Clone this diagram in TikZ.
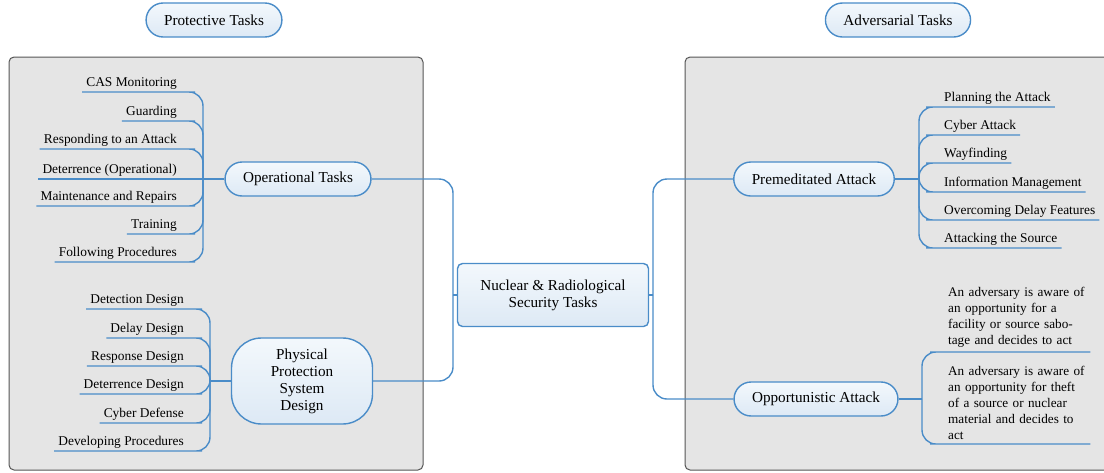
\documentclass[tikz,border=0pt]{standalone}
\usepackage{fontspec}
\setmainfont{Liberation Serif}
\definecolor{mapblue}{HTML}{4A8CC8}
\definecolor{nodetop}{HTML}{F3F8FC}
\definecolor{nodebot}{HTML}{DDE9F5}
\definecolor{panelgray}{HTML}{E5E5E5}
\definecolor{paneledge}{HTML}{555555}

\begin{document}
\begin{tikzpicture}[
        x=1pt, y=-1pt, % one unit per pixel, y grows downwards
        panel/.style = {draw=paneledge, fill=panelgray, line width=1pt, rounded corners=5pt},
        topic/.style = {draw=mapblue, line width=1.4pt, top color=nodetop, bottom color=nodebot,
                font=\fontsize{15.2}{17}\selectfont, align=center}, % main nodes
        pill/.style = {topic, rounded corners=17pt, minimum height=34pt, inner xsep=18pt},
        leaf/.style = {font=\fontsize{13.4}{16}\selectfont, text depth=0pt, inner xsep=4pt, inner ysep=5pt},
        para/.style = {font=\fontsize{13.2}{16}\selectfont, text width=138pt, align=left,
                inner xsep=4pt, inner ysep=4pt},
        branch/.style = {draw=mapblue, line width=1.4pt, rounded corners=14pt},
    ]
    \useasboundingbox (0,0) rectangle (1104,472);
    \clip (0,0) rectangle (1104,472);

    % grey panels
    \draw[panel] (9,57) rectangle (423,470);
    \draw[panel] (685,57) rectangle (1115,470);

    \node[pill] (prot) at (214,20) {Protective Tasks};
    \node[pill] (adv) at (898,20) {Adversarial Tasks};

    \node[topic, rounded corners=5pt, minimum width=191pt, minimum height=63pt] (root) at (553,295)
        {Nuclear \& Radiological\\Security Tasks};
    \node[pill] (ops) at (298,179) {Operational Tasks};
    \node[topic, rounded corners=30pt, minimum width=141pt, minimum height=86pt] (pps) at (302,381)
        {Physical\\Protection\\System\\Design};
    \node[pill] (pre) at (814,179) {Premeditated Attack};
    \node[pill] (opp) at (816,399) {Opportunistic Attack};

    \coordinate (lhub) at (453,295);
    \coordinate (rhub) at (653,295);
    \coordinate (opshub) at (203,179);
    \coordinate (ppshub) at (210,381);
    \coordinate (prehub) at (919,179);
    \coordinate (opphub) at (922,399);

    \draw[branch] (root.west) -- (lhub);
    \draw[branch] (lhub) |- (ops.east);
    \draw[branch] (lhub) |- (pps.east);
    \draw[branch] (root.east) -- (rhub);
    \draw[branch] (rhub) |- (pre.west);
    \draw[branch] (rhub) |- (opp.west);

    % operational tasks
    \draw[branch] (ops.west) -- (opshub);
    \foreach \y/\name/\txt in {92/cas/CAS Monitoring, 121/guard/Guarding, 149/resp/Responding to an Attack,
            206/maint/Maintenance and Repairs, 234/train/Training, 262/proc/Following Procedures}{
        \node[leaf, anchor=south east] (\name) at (181,\y) {\txt};
        \draw[branch] (opshub) |- (\name.south east) -- (\name.south west);
    }
    \node[leaf, anchor=south east] (deter) at (181,179) {Deterrence (Operational)};
    \draw[branch] (opshub) -- (deter.south east) -- (deter.south west);

    % physical protection system design
    \draw[branch] (pps.west) -- (ppshub);
    \foreach \y/\name/\txt in {309/detect/Detection Design, 338/delay/Delay Design, 366/respd/Response Design,
            394/deterd/Deterrence Design, 423/cyberd/Cyber Defense, 451/devproc/Developing Procedures}{
        \node[leaf, anchor=south east] (\name) at (188,\y) {\txt};
        \draw[branch] (ppshub) |- (\name.south east) -- (\name.south west);
    }

    % premeditated attack
    \draw[branch] (pre.east) -- (prehub);
    \foreach \y/\name/\txt in {107/plan/Planning the Attack, 135/cyber/Cyber Attack, 163/way/Wayfinding,
            192/info/Information Management, 220/delayf/Overcoming Delay Features, 248/source/Attacking the Source}{
        \node[leaf, anchor=south west] (\name) at (940,\y) {\txt};
        \draw[branch] (prehub) |- (\name.south west) -- (\name.south east);
    }

    % opportunistic attack
    \draw[branch] (opp.east) -- (opphub);
    \node[para, anchor=south west] (sabo) at (944,352)
        {An adversary is aware of\\an opportunity for a\\facility or source sabo-\\tage and decides to act};
    \node[para, anchor=south west] (theft) at (944,444)
        {An adversary is aware of\\an opportunity for theft\\of a source or nuclear\\material and decides to\\act};
    \draw[branch] (opphub) |- (sabo.south west) -- (sabo.south east);
    \draw[branch] (opphub) |- (theft.south west) -- (theft.south east);

\end{tikzpicture}
\end{document}
